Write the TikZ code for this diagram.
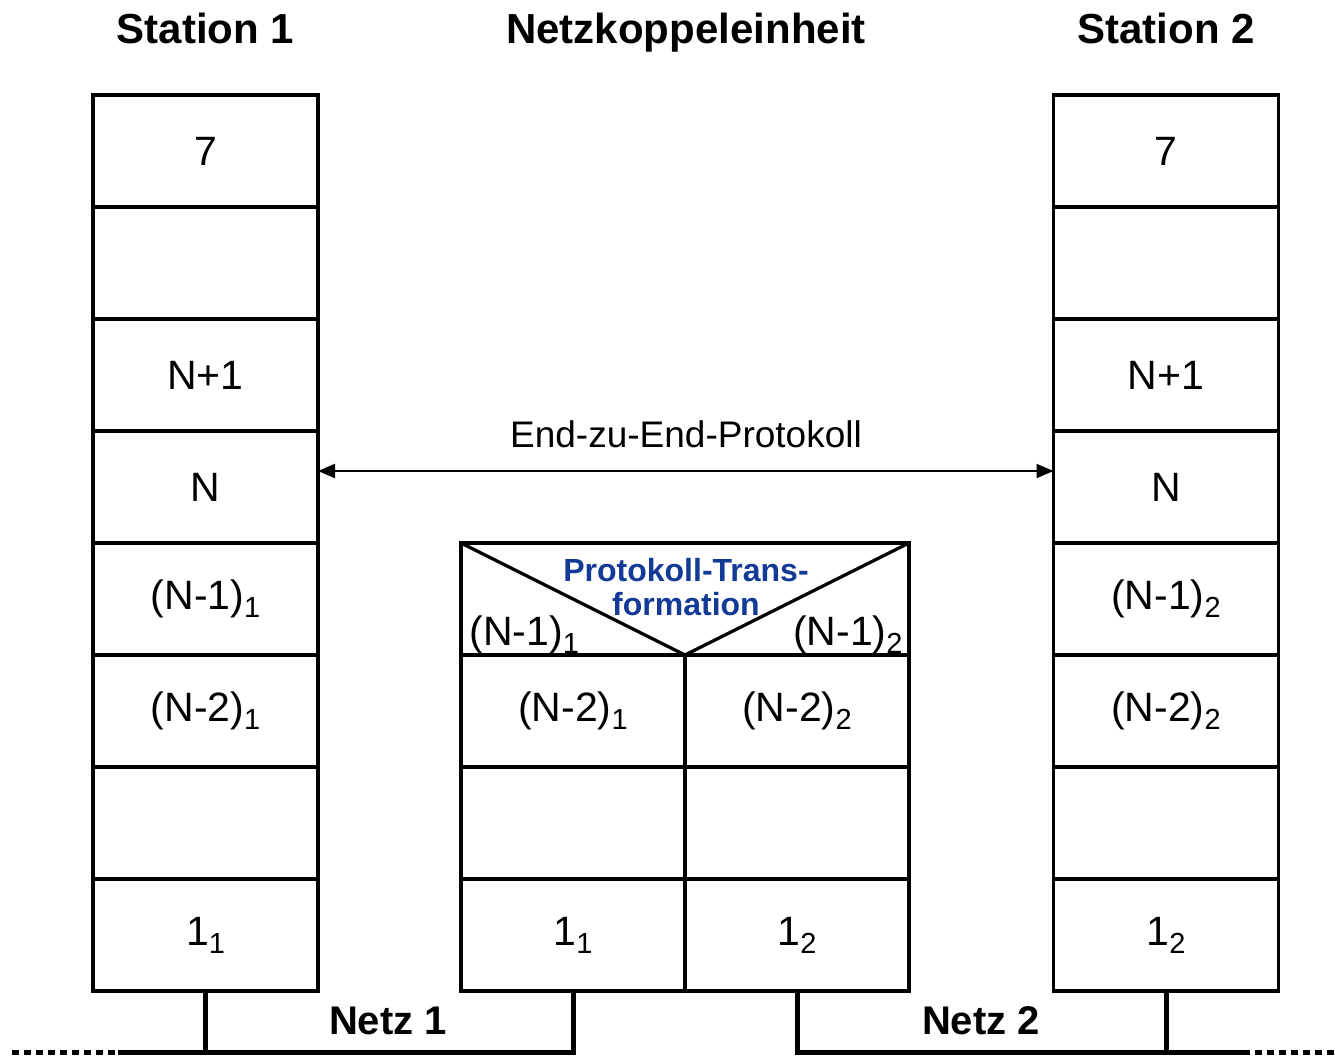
\documentclass[tikz,border=0pt]{standalone}
\usepackage{fontspec}
\setmainfont{Liberation Sans}
\usetikzlibrary{arrows.meta}
\definecolor{ptblue}{RGB}{18,58,150}
\newcommand\subx[1]{\raisebox{-4pt}{\fontsize{14.5}{15}\selectfont #1}}
\begin{document}
\begin{tikzpicture}[x=0.5pt,y=-0.5pt,
  layer/.style={draw, line width=1.6pt, minimum width=112.5pt, minimum height=56pt,
    inner sep=0pt, outer sep=0pt, font=\fontsize{20.5}{24}\selectfont},
  half/.style={layer, minimum width=112pt},
  title/.style={font=\bfseries\fontsize{21}{25}\selectfont, anchor=base},
  netlbl/.style={font=\bfseries\fontsize{20}{24}\selectfont},
  net/.style={line width=2.5pt, line join=miter},
  netdots/.style={line width=2.5pt, dash pattern=on 3.5pt off 2.5pt},
  lbl/.style={font=\fontsize{20.5}{24}\selectfont, inner sep=0pt}]
\useasboundingbox (0,0) rectangle (1335,1057);

% titles
\node[title] (t1) at (205.5,43) {Station 1};
\node[title] (t2) at (686,43) {Netzkoppeleinheit};
\node[title] (t3) at (1166,43) {Station 2};

% station 1
\foreach \i/\t in {1/7,2/{},3/N+1,4/N,5/{(N-1)\subx{1}},6/{(N-2)\subx{1}},7/{},8/{1\subx{1}}}
  \node[layer] (s1r\i) at (205.5,39+112*\i) {\t};
% station 2
\foreach \i/\t in {1/7,2/{},3/N+1,4/N,5/{(N-1)\subx{2}},6/{(N-2)\subx{2}},7/{},8/{1\subx{2}}}
  \node[layer] (s2r\i) at (1166,39+112*\i) {\t};

% coupling unit
\node[layer, minimum width=224pt] (mtop) at (685,599) {};
\draw[line width=1.6pt] (mtop.north west) -- (mtop.south) -- (mtop.north east);
\node[font=\bfseries\fontsize{16}{17}\selectfont, text=ptblue, align=center, inner sep=0pt]
  (ptrans) at (686,587) {Protokoll-Trans-\\formation};
\node[lbl, anchor=base west] (m11) at (469,645) {(N-1)\subx{1}};
\node[lbl, anchor=base east] (m12) at (903,645) {(N-1)\subx{2}};
\foreach \i/\a/\b in {2/{(N-2)\subx{1}}/{(N-2)\subx{2}},3/{}/{},4/{1\subx{1}}/{1\subx{2}}}{
  \node[half] (mL\i) at (573,487+112*\i) {\a};
  \node[half] (mR\i) at (797,487+112*\i) {\b};
}

% end-to-end protocol
\draw[{Triangle[length=8.5pt,width=7pt]}-{Triangle[length=8.5pt,width=7pt]}, line width=1pt]
  ([yshift=8pt]s1r4.east) -- ([yshift=8pt]s2r4.west);
\node[font=\fontsize{18.5}{22}\selectfont] (e2e) at (686,434) {End-zu-End-Protokoll};

% networks
\coordinate (n1L) at (118,1052);
\coordinate (n1E) at (12,1052);
\coordinate (n2R) at (1243,1052);
\coordinate (n2E) at (1335,1052);
\draw[netdots] (n1E) -- (n1L);
\draw[net] (n1L) -- (mL4.south |- n1L) -- (mL4.south);
\draw[net] (s1r8.south) -- (s1r8.south |- n1L);
\draw[net] (mR4.south) -- (mR4.south |- n2R) -- (n2R);
\draw[net] (s2r8.south) -- (s2r8.south |- n2R);
\draw[netdots] (n2R) -- (n2E);
\node[netlbl] (net1) at (388,1021) {Netz 1};
\node[netlbl] (net2) at (981,1021) {Netz 2};
\end{tikzpicture}
\end{document}
